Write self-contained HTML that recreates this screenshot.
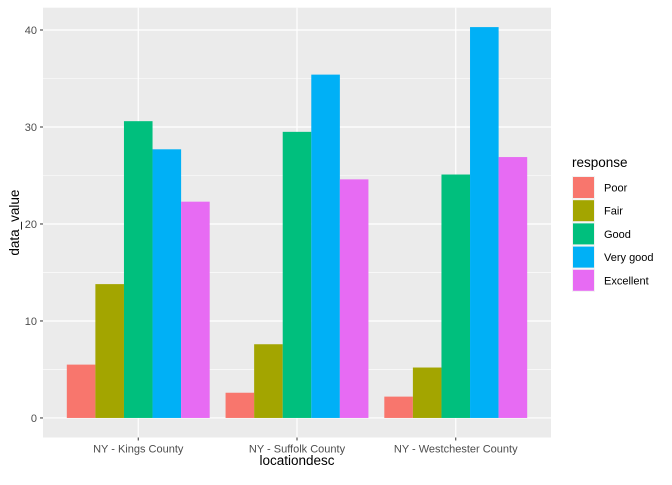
<!DOCTYPE html>
<html><head><meta charset="utf-8"><style>
body{margin:0;background:#fff;font-family:"Liberation Sans",Arial,sans-serif}
</style></head><body>
<svg id="c" width="672" height="480" xmlns="http://www.w3.org/2000/svg" font-family="Liberation Sans, Arial, sans-serif"></svg>
<script>
const categories=["NY - Kings County","NY - Suffolk County","NY - Westchester County"];
const responses=["Poor","Fair","Good","Very good","Excellent"];
const colors=["#F8766D","#A3A500","#00BF7D","#00B0F6","#E76BF3"];
const poor=[5.5,2.6,2.2];
const fair=[13.8,7.6,5.2];
const good=[30.6,29.5,25.1];
const veryGood=[27.7,35.4,40.3];
const excellent=[22.3,24.6,26.9];
const yTicks=[0,10,20,30,40];
const series=[poor,fair,good,veryGood,excellent];
const NS="http://www.w3.org/2000/svg";
const svg=document.getElementById('c');
function mk(t,a,p){const e=document.createElementNS(NS,t);for(const k in a)e.setAttribute(k,a[k]);(p||svg).appendChild(e);return e;}
const L=43,R=551,T=7.7,B=437.5;
const yMin=-2.015,yMax=42.3;
const y=v=>B-(v-yMin)/(yMax-yMin)*(B-T);
const step=(R-L)/(categories.length-1+1.2);
const xc=i=>L+step*(0.6+i);
const bw=step*0.9/responses.length;
const panel=mk('rect',{x:L,y:T,width:R-L,height:B-T,fill:'#EBEBEB'});

for(let i=0;i<yTicks.length-1;i++){const m=(yTicks[i]+yTicks[i+1])/2;mk('line',{x1:L,x2:R,y1:y(m),y2:y(m),stroke:'#fff','stroke-width':0.6});}
yTicks.forEach(t=>{const g=mk('line',{x1:L,x2:R,y1:y(t),y2:y(t),stroke:'#fff','stroke-width':1.2});

mk('line',{x1:L-3,x2:L,y1:y(t),y2:y(t),stroke:'#333'});
const tx=mk('text',{x:L-6,y:y(t)+4,'text-anchor':'end','font-size':11,fill:'#4D4D4D'});tx.textContent=t;
});
categories.forEach((c,i)=>{mk('line',{x1:xc(i),x2:xc(i),y1:T,y2:B,stroke:'#fff','stroke-width':1.2});
mk('line',{x1:xc(i),x2:xc(i),y1:B,y2:B+3,stroke:'#333'});
const tx=mk('text',{x:xc(i),y:B+15,'text-anchor':'middle','font-size':11,fill:'#4D4D4D'});tx.textContent=c;
});
series.forEach((s,j)=>s.forEach((v,i)=>{const x0=xc(i)-step*0.45+j*bw;
const r=mk('rect',{x:x0,y:y(v),width:bw,height:y(0)-y(v),fill:colors[j]});

}));
let t=mk('text',{x:(L+R)/2,y:465,'text-anchor':'middle','font-size':13.5,fill:'#000'});t.textContent='locationdesc';

t=mk('text',{x:0,y:0,'text-anchor':'middle','font-size':13.5,fill:'#000',transform:`translate(19,${(T+B)/2}) rotate(-90)`});t.textContent='data_value';

t=mk('text',{x:572,y:167,'font-size':13.5,fill:'#000'});t.textContent='response';

responses.forEach((r,j)=>{const ky=176+j*23.2;
const g=mk('g',{});
mk('rect',{x:572,y:ky,width:23,height:23,fill:'#F2F2F2'},g);
mk('rect',{x:573,y:ky+1,width:21,height:21,fill:colors[j]},g);
const tx=mk('text',{x:604,y:ky+15.5,'font-size':11,fill:'#000'},g);tx.textContent=r;});
</script>
</body></html>
